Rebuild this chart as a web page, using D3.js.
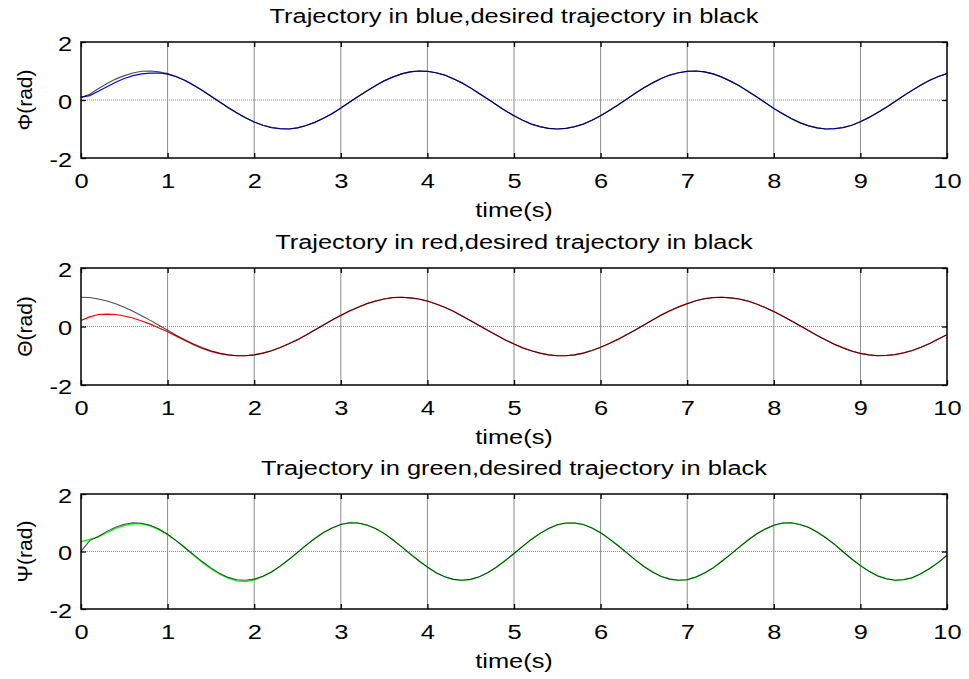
<!DOCTYPE html>
<html>
<head>
<meta charset="utf-8">
<script src="https://cdn.jsdelivr.net/npm/d3@7"></script>
<style>
  body { margin: 0; background: #fff; }
  svg text { font-family: "Liberation Sans", Arial, sans-serif; fill: #000; }
</style>
</head>
<body>
<div class="js-chart"></div>
<script>
// sample times (s), 0.1 s step
let time = d3.range(0, 101).map(i => i / 10);

let xTicks = [0, 1, 2, 3, 4, 5, 6, 7, 8, 9, 10];
let yTicks = [-2, 0, 2];

// roll (phi)
let phiDesired = [
  0.08, 0.20, 0.39, 0.57, 0.72, 0.84, 0.93, 0.99, 1.00, 0.97,
  0.91, 0.81, 0.68, 0.52, 0.34, 0.14, -0.06, -0.26, -0.44, -0.61,
  -0.76, -0.87, -0.95, -0.99, -1.00, -0.96, -0.88, -0.77, -0.63, -0.47,
  -0.28, -0.08, 0.12, 0.31, 0.49, 0.66, 0.79, 0.90, 0.97, 1.00,
  0.99, 0.94, 0.86, 0.73, 0.59, 0.41, 0.22, 0.03, -0.17, -0.37,
  -0.54, -0.70, -0.83, -0.92, -0.98, -1.00, -0.98, -0.92, -0.83, -0.70,
  -0.54, -0.36, -0.17, 0.03, 0.23, 0.42, 0.59, 0.74, 0.86, 0.94,
  0.99, 1.00, 0.97, 0.90, 0.79, 0.65, 0.49, 0.30, 0.11, -0.09,
  -0.29, -0.47, -0.64, -0.78, -0.89, -0.96, -1.00, -0.99, -0.95, -0.87,
  -0.75, -0.60, -0.43, -0.25, -0.05, 0.15, 0.34, 0.52, 0.68, 0.81,
  0.91
];
let phiActual = [
  0.10, 0.15, 0.30, 0.46, 0.61, 0.74, 0.84, 0.90, 0.93, 0.93,
  0.89, 0.80, 0.67, 0.51, 0.33, 0.13, -0.07, -0.27, -0.45, -0.61,
  -0.76, -0.87, -0.95, -0.99, -1.00, -0.96, -0.88, -0.77, -0.63, -0.47,
  -0.28, -0.08, 0.12, 0.31, 0.49, 0.66, 0.79, 0.90, 0.97, 1.00,
  0.99, 0.94, 0.86, 0.73, 0.59, 0.41, 0.22, 0.03, -0.17, -0.37,
  -0.54, -0.70, -0.83, -0.92, -0.98, -1.00, -0.98, -0.92, -0.83, -0.70,
  -0.54, -0.36, -0.17, 0.03, 0.23, 0.42, 0.59, 0.74, 0.86, 0.94,
  0.99, 1.00, 0.97, 0.90, 0.79, 0.65, 0.49, 0.30, 0.11, -0.09,
  -0.29, -0.47, -0.64, -0.78, -0.89, -0.96, -1.00, -0.99, -0.95, -0.87,
  -0.75, -0.60, -0.43, -0.25, -0.05, 0.15, 0.34, 0.52, 0.68, 0.81,
  0.91
];

// pitch (theta)
let thetaDesired = [
  1.00, 0.99, 0.94, 0.87, 0.78, 0.66, 0.52, 0.37, 0.21, 0.04,
  -0.13, -0.30, -0.45, -0.60, -0.72, -0.83, -0.91, -0.97, -1.00, -1.00,
  -0.97, -0.91, -0.83, -0.72, -0.59, -0.45, -0.29, -0.12, 0.05, 0.22,
  0.38, 0.53, 0.66, 0.78, 0.87, 0.94, 0.99, 1.00, 0.98, 0.94,
  0.87, 0.77, 0.66, 0.52, 0.36, 0.20, 0.03, -0.14, -0.30, -0.46,
  -0.60, -0.73, -0.83, -0.91, -0.97, -1.00, -1.00, -0.97, -0.91, -0.82,
  -0.71, -0.58, -0.44, -0.28, -0.12, 0.05, 0.22, 0.39, 0.54, 0.67,
  0.78, 0.88, 0.95, 0.99, 1.00, 0.98, 0.94, 0.87, 0.77, 0.65,
  0.51, 0.36, 0.20, 0.03, -0.14, -0.31, -0.46, -0.61, -0.73, -0.84,
  -0.92, -0.97, -1.00, -0.99, -0.96, -0.90, -0.82, -0.71, -0.58, -0.43,
  -0.28
];
let thetaActual = [
  0.21, 0.33, 0.41, 0.42, 0.41, 0.36, 0.29, 0.19, 0.08, -0.05,
  -0.18, -0.33, -0.48, -0.62, -0.75, -0.85, -0.93, -0.97, -1.00, -1.00,
  -0.97, -0.91, -0.83, -0.72, -0.59, -0.45, -0.29, -0.12, 0.05, 0.22,
  0.38, 0.53, 0.66, 0.78, 0.87, 0.94, 0.99, 1.00, 0.98, 0.94,
  0.87, 0.77, 0.66, 0.52, 0.36, 0.20, 0.03, -0.14, -0.30, -0.46,
  -0.60, -0.73, -0.83, -0.91, -0.97, -1.00, -1.00, -0.97, -0.91, -0.82,
  -0.71, -0.58, -0.44, -0.28, -0.12, 0.05, 0.22, 0.39, 0.54, 0.67,
  0.78, 0.88, 0.95, 0.99, 1.00, 0.98, 0.94, 0.87, 0.77, 0.65,
  0.51, 0.36, 0.20, 0.03, -0.14, -0.31, -0.46, -0.61, -0.73, -0.84,
  -0.92, -0.97, -1.00, -0.99, -0.96, -0.90, -0.82, -0.71, -0.58, -0.43,
  -0.28
];

// yaw (psi)
let psiDesired = [
  0.00, 0.38, 0.52, 0.70, 0.84, 0.95, 1.00, 0.98, 0.91, 0.78,
  0.60, 0.38, 0.14, -0.11, -0.35, -0.57, -0.76, -0.90, -0.98, -1.00,
  -0.96, -0.86, -0.71, -0.51, -0.28, -0.03, 0.22, 0.45, 0.66, 0.82,
  0.94, 1.00, 0.99, 0.92, 0.80, 0.63, 0.41, 0.17, -0.08, -0.32,
  -0.54, -0.74, -0.88, -0.97, -1.00, -0.97, -0.88, -0.73, -0.54, -0.31,
  -0.07, 0.18, 0.42, 0.63, 0.80, 0.93, 0.99, 0.99, 0.94, 0.82,
  0.65, 0.44, 0.21, -0.04, -0.29, -0.52, -0.71, -0.87, -0.96, -1.00,
  -0.98, -0.89, -0.75, -0.57, -0.34, -0.10, 0.15, 0.39, 0.61, 0.78,
  0.91, 0.99, 1.00, 0.94, 0.84, 0.68, 0.48, 0.25, -0.01, -0.26,
  -0.49, -0.69, -0.85, -0.95, -1.00, -0.98, -0.91, -0.77, -0.59, -0.38,
  -0.13
];
let psiActual = [
  0.34, 0.42, 0.51, 0.66, 0.80, 0.91, 0.96, 0.96, 0.89, 0.76,
  0.58, 0.37, 0.12, -0.13, -0.38, -0.60, -0.79, -0.93, -1.02, -1.05,
  -0.99, -0.87, -0.71, -0.51, -0.28, -0.03, 0.22, 0.45, 0.66, 0.82,
  0.94, 1.00, 0.99, 0.92, 0.80, 0.63, 0.41, 0.17, -0.08, -0.32,
  -0.54, -0.74, -0.88, -0.97, -1.00, -0.97, -0.88, -0.73, -0.54, -0.31,
  -0.07, 0.18, 0.42, 0.63, 0.80, 0.93, 0.99, 0.99, 0.94, 0.82,
  0.65, 0.44, 0.21, -0.04, -0.29, -0.52, -0.71, -0.87, -0.96, -1.00,
  -0.98, -0.89, -0.75, -0.57, -0.34, -0.10, 0.15, 0.39, 0.61, 0.78,
  0.91, 0.99, 1.00, 0.94, 0.84, 0.68, 0.48, 0.25, -0.01, -0.26,
  -0.49, -0.69, -0.85, -0.95, -1.00, -0.98, -0.91, -0.77, -0.59, -0.38,
  -0.13
];

let panels = [
  {title: "Trajectory in blue,desired trajectory in black", ylabel: "Φ(rad)", color: "#0000ff",
   actual: phiActual, desired: phiDesired, top: 42, bottom: 158},
  {title: "Trajectory in red,desired trajectory in black", ylabel: "Θ(rad)", color: "#ff0000",
   actual: thetaActual, desired: thetaDesired, top: 268, bottom: 385},
  {title: "Trajectory in green,desired trajectory in black", ylabel: "Ψ(rad)", color: "#00ff00",
   actual: psiActual, desired: psiDesired, top: 494, bottom: 609}
];

let width = 969,
    height = 679,
    left = 81,
    right = 947,
    fontSize = 20,
    sx = 1.27; // the original text is drawn wider than Liberation Sans

let svg = d3.select('.js-chart').append("svg")
    .attr("width", width)
    .attr("height", height);

let x = d3.scaleLinear().domain([0, 10]).range([left, right]);

// horizontal text, stretched sideways around its anchor
function wideText(sel, tx, ty, str, size) {
    return sel.append("text")
        .attr("transform", "translate(" + tx + "," + ty + ") scale(" + sx + ",1)")
        .attr("text-anchor", "middle")
        .attr("font-size", size)
        .text(str);
}

panels.forEach(function(p, k) {
    let y = d3.scaleLinear().domain([-2, 2]).range([p.bottom, p.top]);
    let g = svg.append("g");

    g.append("clipPath").attr("id", "clip" + k)
        .append("rect")
        .attr("x", left).attr("y", p.top)
        .attr("width", right - left).attr("height", p.bottom - p.top);

    // grid
    g.selectAll(".vgrid")
        .data(xTicks.slice(1, -1))
        .join("line")
        .attr("x1", d => x(d)).attr("x2", d => x(d))
        .attr("y1", p.top).attr("y2", p.bottom)
        .attr("stroke", "#8c8c8c")
        .attr("stroke-width", 1);
    g.append("line")
        .attr("x1", left).attr("x2", right)
        .attr("y1", y(0)).attr("y2", y(0))
        .attr("stroke", "#8c8c8c")
        .attr("stroke-width", 1)
        .attr("stroke-dasharray", "1,1");

    // curves
    let line = d3.line()
        .x((d, i) => x(time[i]))
        .y(d => y(d));
    let plot = g.append("g").attr("clip-path", "url(#clip" + k + ")");
    plot.append("path")
        .attr("d", line(p.actual))
        .attr("fill", "none")
        .attr("stroke", p.color)
        .attr("stroke-width", 1.2);
    plot.append("path")
        .attr("d", line(p.desired))
        .attr("fill", "none")
        .attr("stroke", "#000")
        .attr("stroke-opacity", 0.7)
        .attr("stroke-width", 1.1);

    // axes
    let styleAxis = a => {
        a.select(".domain").remove();
        a.selectAll(".tick line").attr("stroke", "#000").attr("stroke-width", 1.3);
        a.selectAll("text")
            .attr("font-size", fontSize)
            .attr("font-family", null)
            .attr("transform", "scale(" + sx + ",1)");
    };
    g.append("g")
        .attr("transform", "translate(0," + p.bottom + ")")
        .call(d3.axisBottom(x).tickValues(xTicks).tickSize(-5).tickPadding(16))
        .call(styleAxis);
    g.append("g")
        .attr("transform", "translate(0," + p.top + ")")
        .call(d3.axisTop(x).tickValues(xTicks).tickSize(-5).tickFormat(""))
        .call(styleAxis);
    g.append("g")
        .attr("transform", "translate(" + left + ",0)")
        .call(d3.axisLeft(y).tickValues(yTicks).tickSize(-5).tickFormat(d => String(d)))
        .call(styleAxis)
        .call(a => a.selectAll("text").attr("x", -9 / sx).attr("dy", "0.4em"));
    g.append("g")
        .attr("transform", "translate(" + right + ",0)")
        .call(d3.axisRight(y).tickValues(yTicks).tickSize(-5).tickFormat(""))
        .call(styleAxis);

    g.append("rect")
        .attr("x", left).attr("y", p.top)
        .attr("width", right - left).attr("height", p.bottom - p.top)
        .attr("fill", "none")
        .attr("stroke", "#000")
        .attr("stroke-width", 1.5);

    // labels
    wideText(g, (left + right) / 2, p.top - 19, p.title, fontSize);
    wideText(g, (left + right) / 2, p.bottom + 59, "time(s)", fontSize);
    g.append("text")
        .attr("transform", "translate(32," + (p.top + p.bottom) / 2 + ") rotate(-90)")
        .attr("text-anchor", "middle")
        .attr("font-size", 21)
        .text(p.ylabel);
});
</script>
</body>
</html>
